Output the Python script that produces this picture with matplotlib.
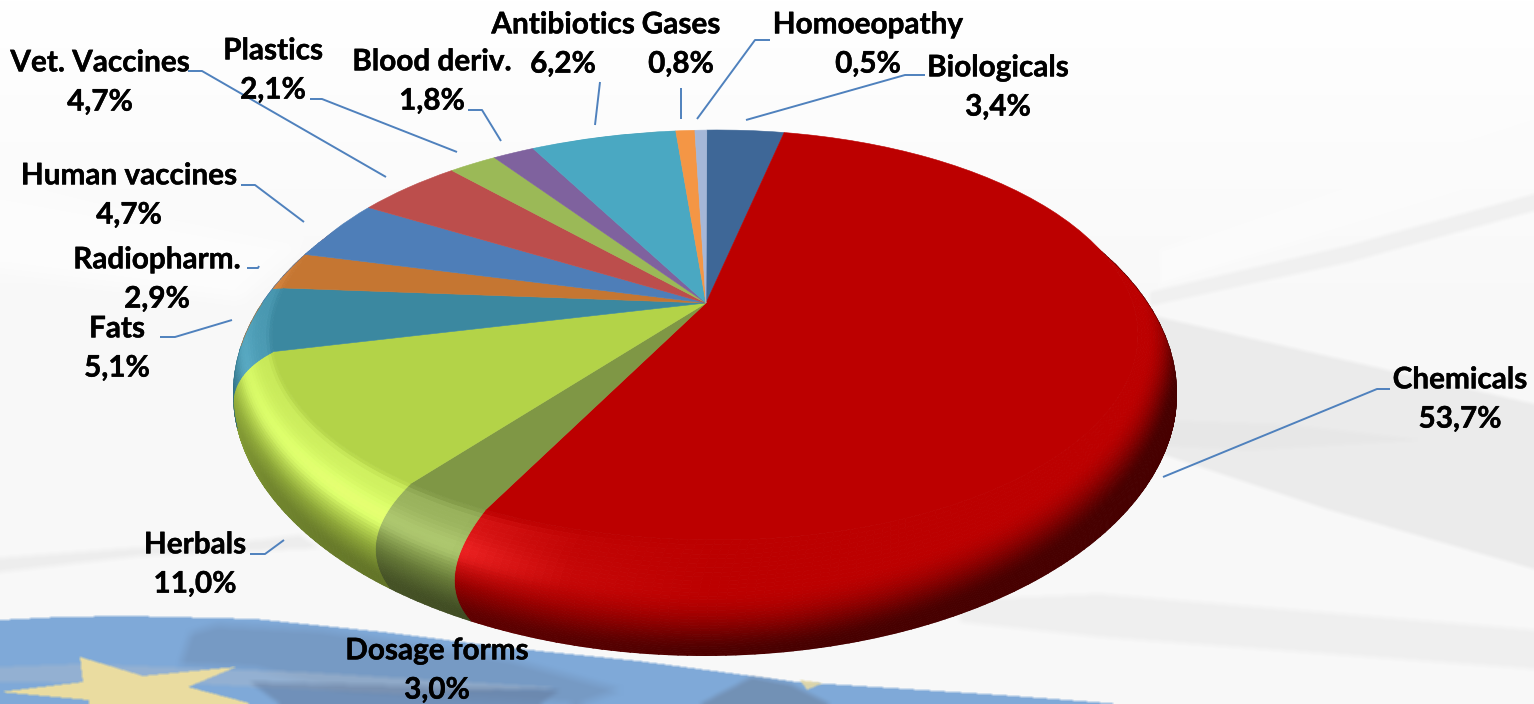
import numpy as np
import matplotlib
matplotlib.use("Agg")
import matplotlib.pyplot as plt
import matplotlib.patheffects as pe
from matplotlib.path import Path
from matplotlib.transforms import Transform
from matplotlib.collections import PolyCollection
from matplotlib.patches import Ellipse
from matplotlib.colors import to_rgb

plt.rcParams['font.family'] = ['Lato', 'DejaVu Sans']

# ---- data (clockwise from 12 o'clock) ----
categories = ["Biologicals", "Chemicals", "Dosage forms", "Herbals", "Fats", "Radiopharm.",
              "Human vaccines", "Vet. Vaccines", "Plastics", "Blood deriv.", "Antibiotics",
              "Gases", "Homoeopathy"]
shares = [3.4, 53.7, 3.0, 11.0, 5.1, 2.9, 4.7, 4.7, 2.1, 1.8, 6.2, 0.8, 0.5]
share_labels = ["3,4%", "53,7%", "3,0%", "11,0%", "5,1%", "2,9%", "4,7%", "4,7%", "2,1%",
                "1,8%", "6,2%", "0,8%", "0,5%"]
slice_colors = ["#3E6797", "#BC0000", "#7F9745", "#B3D348", "#3B88A0", "#C57632", "#4E7EB8",
                "#BC4E4C", "#9BB957", "#7F629E", "#4AA8C2", "#F49645", "#A5B7D8"]

# ---- layout: label centres and leader lines, in picture pixels ----
label_xy = [(998, 87), (1460, 399), (437, 670), (195, 564), (117, 348), (157, 279), (129, 195),
            (100, 82), (273, 70), (432, 81), (563, 44), (681, 44), (868, 44)]
leaders = [[(746, 120), (905, 75), (925, 75)],
           [(1163, 477), (1377, 389), (1390, 389)],
           None,
           [(284, 540), (265, 554), (250, 554)],
           [(232, 320), (175, 337), (160, 337)],
           [(259, 266), (258, 268), (247, 268)],
           [(304, 222), (255, 185), (241, 185)],
           [(386, 177), (202, 71), (188, 71)],
           [(457, 152), (322, 99), (310, 99)],
           [(501, 141), (482, 110), (468, 110)],
           [(595, 125), (600, 82)],
           [(681, 119), (681, 88)],
           [(697, 119), (755, 40), (770, 40)]]

W, H = 1534, 704
fig = plt.figure(figsize=(W / 100, H / 100), dpi=100, facecolor="white")
ax = fig.add_axes([0, 0, 1, 1])

# ---- projection of the pie disc ----
FACE = (718.0, 335.0, 446.0, 205.0)     # top face ellipse: cx, cy, rx, ry
FACE_RX_RIGHT = 420.0
MID = (705.0, 350.0, 472.0, 262.0)      # widest ring of the bevel
BASE = (705.0, 393.5, 472.0, 262.5)     # lower edge, also the outline
APEX = (706.0, 303.0)
a_x = (APEX[0] - FACE[0]) / FACE[2]
a_y = (FACE[1] - APEX[1]) / FACE[3]
a_len = np.hypot(a_x, a_y)
sin_p, cos_p = a_x / a_len, a_y / a_len


def disc_map(u, v):
    along = u * sin_p + v * cos_p
    perp = u * cos_p - v * sin_p
    den = 1 + a_len * along
    al2 = (along + a_len) / den
    pe2 = perp * np.sqrt(1 - a_len ** 2) / den
    return al2 * sin_p + pe2 * cos_p, al2 * cos_p - pe2 * sin_p


def face_xy(u, v):
    rx = np.where(u > 0, FACE_RX_RIGHT, FACE[2])
    return np.column_stack([FACE[0] + rx * u, FACE[1] - FACE[3] * v])


class DiscToPixels(Transform):
    input_dims = 2
    output_dims = 2
    is_separable = False
    has_inverse = False

    def transform_non_affine(self, xy):
        xy = np.asarray(xy, float)
        u, v = disc_map(xy[:, 0], xy[:, 1])
        return face_xy(u, v)


def ring(e, u, v):
    return np.column_stack([e[0] + e[2] * u, e[1] - e[3] * v])


# ---- background picture (soft shapes, composited on a pixel grid) ----
yy, xx = np.mgrid[0:H, 0:W]
canvas = np.ones((H, W, 3))
canvas *= (1 - 0.025 * np.clip(yy / 300.0, 0, 1))[..., None]
grid_pts = np.column_stack([xx.ravel() + 0.5, yy.ravel() + 0.5])


def box_blur(a, r):
    if r <= 0:
        return a
    k = np.ones(2 * r + 1) / (2 * r + 1)
    pad = np.pad(a, r, mode="edge")
    pad = np.apply_along_axis(lambda m: np.convolve(m, k, mode="same"), 0, pad)
    pad = np.apply_along_axis(lambda m: np.convolve(m, k, mode="same"), 1, pad)
    return pad[r:-r, r:-r]


def soft(points, color, alpha=1.0, blur=2):
    m = Path(np.array(points, float)).contains_points(grid_pts).reshape(H, W).astype(float)
    m = box_blur(m, blur) * alpha
    canvas[:] = canvas * (1 - m[..., None]) + np.array(to_rgb(color)) * m[..., None]


# right-hand grey swooshes
soft([(1150, 315), (1383, 369), (1534, 404), (1534, 569), (1323, 508), (1150, 450)], "#EBEBEB")
soft([(1150, 420), (1290, 425), (1420, 440), (1250, 450), (1150, 445)], "#E4E4E4", 0.5)
soft([(1150, 292), (1350, 245), (1534, 194), (1534, 211), (1350, 262), (1150, 306)], "#F0F0F0")
soft([(1160, 250), (1534, 120), (1534, 170), (1160, 285)], "#FBFBFB")
soft([(960, 600), (1100, 594), (1534, 630), (1534, 669), (1100, 637), (960, 622)], "#EFEFEF", blur=3)
# left bands
soft([(0, 558), (120, 549), (260, 540), (300, 535), (320, 548), (140, 556), (0, 572)], "#EDEDED", blur=3)
soft([(0, 190), (300, 245), (240, 300), (0, 270)], "#FCFCFC", blur=8)
# blue flag
soft([(0, 620), (60, 617), (128, 616), (255, 619), (383, 632), (510, 648), (638, 661), (797, 682),
      (1000, 695), (1120, 704), (1120, 710), (0, 710)], "#7FA9D8", blur=1)
soft([(191, 633), (217, 625), (319, 630), (510, 660), (620, 690), (580, 704), (340, 690),
      (255, 668), (180, 665)], "#6C88AC", 0.45, blur=5)
soft([(752, 677), (790, 684), (830, 704), (700, 704)], "#64748C", 0.45, blur=3)
soft([(0, 667), (80, 664), (300, 672), (560, 688), (400, 694), (200, 684), (0, 682)], "#A8B8CC", 0.5, blur=2)
soft([(250, 682), (560, 690), (540, 704), (280, 704)], "#62789A", 0.5, blur=3)
soft([(80, 657), (143, 676), (236, 667), (188, 687), (249, 703), (249, 706), (89, 706), (89, 700),
      (0, 692), (83, 682)], "#EADCA0", blur=1)
soft([(800, 680), (823, 683), (807, 690)], "#E4D9A6", 0.9, blur=1)
ax.imshow(canvas, extent=(0, W, H, 0), aspect="auto", interpolation="nearest", zorder=0)


# ---- rim (bevel and side wall) ----
def shade(rgb, s, theta):
    # theta in degrees clockwise from the top
    hw = np.interp(theta, [178, 193, 207, 225, 270, 285, 300, 320], [0, 0.2, 1, 1, 0.6, 0.4, 0.15, 0.05])
    rise = np.clip(s / 0.06, 0, 1)
    h = hw * rise * (0.55 + 0.45 * np.exp(-((s - 0.3) / 0.12) ** 2)) * np.clip((0.6 - s) / 0.22, 0, 1)
    amp = np.interp(theta, [0, 60, 170, 205, 240, 270, 300, 360], [0.55, 0.62, 0.62, 0.5, 0.36, 0.14, 0.05, 0.3])
    t0 = np.interp(theta, [0, 40, 110, 170, 205, 240], [0.0, 0.0, 0.08, 0.33, 0.33, 0.25])
    span = np.interp(theta, [0, 110, 170], [0.45, 0.5, 0.62])
    t = np.clip((s - t0) / span, 0, 1)
    d = amp * t * t * (3 - 2 * t)
    base = np.array(rgb)
    c = (base + h * (0.22 * base + 0.14 * (1 - base))) * (1 - d)
    return np.clip(c, 0, 1)


quads, quad_colors = [], []
s_grid = np.linspace(0, 1, 36)
bounds = np.concatenate([[0], np.cumsum(shares) / np.sum(shares) * 360])
for i, col in enumerate(slice_colors):
    n = max(2, int((bounds[i + 1] - bounds[i]) / 1.0) + 1)
    th = np.linspace(bounds[i], bounds[i + 1], n + 1)
    rad = np.radians(th)
    rad_m = np.radians(th - np.interp(th, [200, 220, 256, 300], [-0.5, -0.5, 3, 3]))
    rad_b = np.radians(th - np.interp(th, [200, 220, 256, 300], [1.5, 1.5, 3, 3]))
    u, v = disc_map(np.sin(rad), np.cos(rad))
    um, vm = disc_map(np.sin(rad_m), np.cos(rad_m))
    ub, vb = disc_map(np.sin(rad_b), np.cos(rad_b))
    F, M, B = face_xy(u, v), ring(MID, um, vm), ring(BASE, ub, vb)
    C = 2 * M - 0.5 * (F + B)
    rgb = to_rgb(col)
    for s0, s1 in zip(s_grid[:-1], s_grid[1:]):
        P0 = (1 - s0) ** 2 * F + 2 * s0 * (1 - s0) * C + s0 ** 2 * B
        P1 = (1 - s1) ** 2 * F + 2 * s1 * (1 - s1) * C + s1 ** 2 * B
        for k in range(n):
            quads.append([P0[k], P0[k + 1], P1[k + 1], P1[k]])
            quad_colors.append(shade(rgb, 0.5 * (s0 + s1), 0.5 * (th[k] + th[k + 1])))
rim = PolyCollection(quads, facecolors=quad_colors, edgecolors=quad_colors, linewidths=0.6, zorder=2)
ax.add_collection(rim)
outline = Ellipse((BASE[0], BASE[1]), 2 * BASE[2], 2 * BASE[3], transform=ax.transData, fc="none", ec="none")
ax.add_patch(outline)
rim.set_clip_path(outline)

# ---- top face: the pie itself ----
wedges, _ = ax.pie(shares, colors=slice_colors, startangle=90, counterclock=False, radius=1.0,
                   wedgeprops=dict(linewidth=0))
ax.set_aspect("auto")
ax.set_xlim(0, W)
ax.set_ylim(H, 0)
ax.set_xticks([])
ax.set_yticks([])
ax.set_frame_on(False)
pie_tf = DiscToPixels() + ax.transData
for w in wedges:
    w.set_transform(pie_tf)
    w.set_zorder(3)
    w.set_edgecolor(w.get_facecolor())
    w.set_linewidth(0.4)
    w.set_clip_path(outline)

# ---- leader lines and labels ----
for seg in leaders:
    if seg is None:
        continue
    p = np.array(seg, float)
    ax.plot(p[:, 0], p[:, 1], color="#4F81BD", lw=1.4, solid_capstyle="butt", zorder=4)

for name, val, (x, y) in zip(categories, share_labels, label_xy):
    ax.text(x, y, f"{name}\n{val}", ha="center", va="center", fontsize=21.4, fontweight="bold",
            color="black", linespacing=1.49, zorder=5,
            path_effects=[pe.withStroke(linewidth=0.3, foreground="black")])

fig.savefig("out.png", dpi=100, facecolor="white")
